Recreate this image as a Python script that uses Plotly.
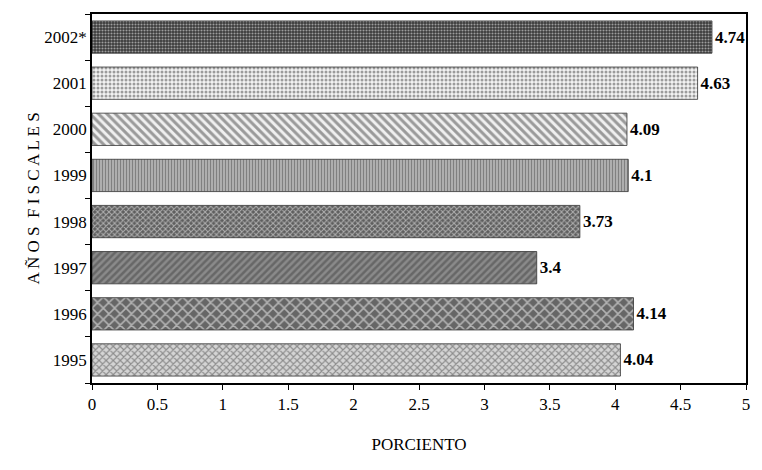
import plotly.graph_objects as go

years = ["1995", "1996", "1997", "1998", "1999", "2000", "2001", "2002*"]
values = [4.04, 4.14, 3.4, 3.73, 4.1, 4.09, 4.63, 4.74]
labels = ["4.04", "4.14", "3.4", "3.73", "4.1", "4.09", "4.63", "4.74"]
x_ticks = [0, 0.5, 1, 1.5, 2, 2.5, 3, 3.5, 4, 4.5, 5]

shapes = ["x", "x", "/", "x", "|", "\\", ".", "."]
bgcols = ["#d4d4d4", "#666666", "#8a8a8a", "#5e5e5e", "#bdbdbd", "#f0f0f0", "#f2f2f2", "#3a3a3a"]
fgcols = ["#444444", "#111111", "#111111", "#111111", "#333333", "#1a1a1a", "#8a8a8a", "#b0b0b0"]
psizes = [5, 8, 5, 4, 3, 6, 4, 3]
solid = [0.4, 0.35, 0.5, 0.45, 0.5, 0.5, 0.45, 0.4]

serif = "Liberation Serif"

fig = go.Figure(go.Bar(
    y=years, x=values, orientation="h",
    text=labels, textposition="outside", cliponaxis=False,
    textfont=dict(family=serif, size=17, color="black", weight="bold"),
    width=0.7,
    marker=dict(
        color=bgcols,
        line=dict(color="#333333", width=0.8),
        pattern=dict(shape=shapes, fgcolor=fgcols,
                     size=psizes, solidity=solid, fillmode="overlay"),
    ),
))

# the page body adds an 8 px margin on each side; size the figure to fit the window
fig.update_layout(
    width=746, height=454,
    margin=dict(l=84, r=8, t=6, b=79),
    paper_bgcolor="white", plot_bgcolor="white",
    showlegend=False,
    font=dict(family=serif, size=17, color="black"),
)
fig.update_xaxes(
    range=[0, 5], tickvals=x_ticks, ticktext=[str(v) for v in x_ticks],
    ticks="outside", ticklen=5, tickcolor="black",
    showline=True, linecolor="black", linewidth=1.5, mirror=True,
    showgrid=False, zeroline=False, automargin=False,
    ticklabeloverflow="allow",
    tickfont=dict(family=serif, size=17),
    title=dict(text="PORCIENTO", font=dict(family=serif, size=17), standoff=25),
)
fig.update_yaxes(
    type="category", tickson="boundaries",
    ticks="outside", ticklen=5, tickcolor="black",
    showline=True, linecolor="black", linewidth=1.5, mirror=True,
    showgrid=False, automargin=False,
    tickfont=dict(family=serif, size=17),
    title=dict(text="A Ñ O S  F I S C A L E S", font=dict(family=serif, size=17), standoff=0),
)

fig.write_html("out.html")
